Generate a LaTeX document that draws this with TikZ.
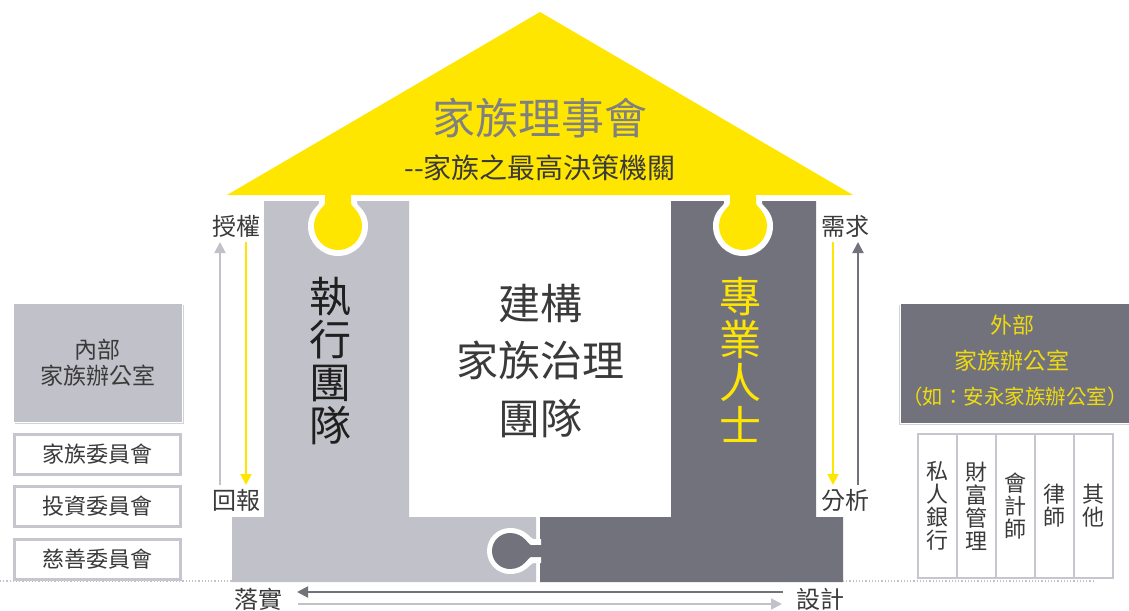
\documentclass[tikz,border=0pt]{standalone}
\usepackage{fontspec}
\setmainfont{Noto Sans CJK TC}
\usetikzlibrary{arrows.meta,shadows}
\definecolor{eyy}{HTML}{FFE600}
\definecolor{lgr}{HTML}{C1C1C9}
\definecolor{dgr}{HTML}{72727C}
\definecolor{txt}{HTML}{3A3A3A}
\definecolor{ttl}{HTML}{808080}
\definecolor{ylt}{HTML}{EEDA10}
\definecolor{bdr}{HTML}{C6C6CE}
\begin{document}
\begin{tikzpicture}[x=1pt,y=-1pt,
  lab/.style={text=txt,font=\fontsize{24}{24}\selectfont,inner sep=0pt},
  arr/.style={line width=2pt,-{Triangle[length=11pt,width=11pt]}},
  vtxt/.style={align=center,inner sep=0pt,font=\fontsize{42}{43}\selectfont},
  combox/.style={draw=bdr,line width=3pt,fill=white,minimum width=166,minimum height=40,inner sep=0pt,text=txt,font=\fontsize{22}{22}\selectfont},
  colbox/.style={draw=bdr,line width=1.6pt,fill=white,minimum width=39,minimum height=144,inner sep=0pt,align=center,text=txt,font=\fontsize{22}{23}\selectfont},
  dots/.style={dotted,line width=1.2pt,color=lgr}
]
\useasboundingbox (0,0) rectangle (1129,610);

% roof
\fill[eyy] (227,195) -- (540,12) -- (853,195) -- cycle;

% puzzle pieces
\fill[lgr] (232,517) -- (264,517) -- (264,201) -- (409,201) -- (409,517) -- (536,517) -- (536,582) -- (232,582) -- cycle;
\fill[dgr] (540,517) -- (671,517) -- (671,201) -- (816,201) -- (816,517) -- (843,517) -- (843,582) -- (540,582) -- cycle;

% yellow knobs on top
\foreach \cx in {338,743}{
  \fill[white] (\cx-19,195) -- (\cx-19,203) .. controls (\cx-19,206) and (\cx-30,211) .. (\cx-30,226)
     arc[start angle=180,end angle=0,radius=30]
     .. controls (\cx+30,211) and (\cx+19,206) .. (\cx+19,203) -- (\cx+19,195) -- cycle;
  \fill[eyy] (\cx-13,193) -- (\cx-13,203) .. controls (\cx-13,207) and (\cx-24,212) .. (\cx-24,226)
     arc[start angle=180,end angle=0,radius=24]
     .. controls (\cx+24,212) and (\cx+13,207) .. (\cx+13,203) -- (\cx+13,193) -- cycle;
}
% bottom knob (dark into light)
\fill[white] (541,539) -- (534,539) .. controls (530,539) and (526,528) .. (510,528)
   arc[start angle=270,end angle=90,radius=23]
   .. controls (526,574) and (530,563) .. (534,563) -- (541,563) -- cycle;
\fill[dgr] (542,545) -- (531,545) .. controls (528,545) and (524,533) .. (510,533)
   arc[start angle=270,end angle=90,radius=18]
   .. controls (524,569) and (528,557) .. (531,557) -- (542,557) -- cycle;

% roof texts
\node[text=ttl,font=\fontsize{43}{43}\selectfont,inner sep=0pt] (title) at (540,118) {家族理事會};
\node[text=txt,font=\fontsize{28}{28}\selectfont,inner sep=0pt] (sub) at (540,168) {-{}-家族之最高決策機關};

% piece texts
\node[vtxt,text=black!88] (exec) at (330,361) {執\\行\\團\\隊};
\node[vtxt,text=eyy] (prof) at (740,360) {專\\業\\人\\士};
\node[align=center,inner sep=0pt,text=txt,font=\fontsize{42}{57.5}\selectfont] (gov) at (540,361) {建構\\家族治理\\團隊};

% side labels
\node[lab] (shou) at (236,226) {授權};
\node[lab] (hui) at (236,500) {回報};
\node[lab] (xu) at (845,226) {需求};
\node[lab] (fen) at (845,500) {分析};
\node[lab] (luo) at (258,599) {落實};
\node[lab] (she) at (820,599) {設計};

% arrows
\coordinate (l1) at (220,485); \coordinate (l2) at (220,242);
\coordinate (l3) at (246,242); \coordinate (l4) at (246,485);
\coordinate (r1) at (833,242); \coordinate (r2) at (833,485);
\coordinate (r3) at (858,485); \coordinate (r4) at (858,242);
\coordinate (b1) at (783,592); \coordinate (b2) at (297,592);
\coordinate (b3) at (298,604); \coordinate (b4) at (782,604);
\draw[arr,color=lgr] (l1) -- (l2);
\draw[arr,color=eyy] (l3) -- (l4);
\draw[arr,color=eyy] (r1) -- (r2);
\draw[arr,color=dgr] (r3) -- (r4);
\draw[arr,color=dgr] (b1) -- (b2);
\draw[arr,color=lgr] (b3) -- (b4);

% dotted base lines
\coordinate (d1) at (0,581); \coordinate (d2) at (232,581);
\coordinate (d3) at (843,581); \coordinate (d4) at (1095,581);
\draw[dots] (d1) -- (d2);
\draw[dots] (d3) -- (d4);

% left: internal family office
\node[fill=lgr,draw=white,line width=1pt,minimum width=169,minimum height=119,inner sep=0pt,
      drop shadow={opacity=0.35,shadow xshift=1.5pt,shadow yshift=-2pt},align=center,text=txt,
      font=\fontsize{23}{26}\selectfont] (inner) at (97.5,362.5) {內部\\家族辦公室};
\node[combox] (c1) at (97.5,454) {家族委員會};
\node[combox] (c2) at (97.5,506.5) {投資委員會};
\node[combox] (c3) at (97.5,559.5) {慈善委員會};

% right: external family office
\node[fill=dgr,draw=white,line width=1pt,minimum width=230,minimum height=120,inner sep=0pt,
      drop shadow={opacity=0.35,shadow xshift=-1.5pt,shadow yshift=-2pt},anchor=west] (outer) at (900,363) {};
\node[text=ylt,font=\fontsize{22}{22}\selectfont,inner sep=0pt] (o1) at (1012,325) {外部};
\node[text=ylt,font=\fontsize{23}{23}\selectfont,inner sep=0pt] (o2) at (1012,361) {家族辦公室};
\node[text=ylt,font=\fontsize{20.5}{21}\selectfont,inner sep=0pt] (o3) at (1015,397) {（如：安永家族辦公室）};

\node[colbox] (k1) at (937.5,506) {私\\人\\銀\\行};
\node[colbox] (k2) at (976.5,506) {財\\富\\管\\理};
\node[colbox] (k3) at (1015.5,506) {會\\計\\師};
\node[colbox] (k4) at (1054.5,506) {律\\師};
\node[colbox] (k5) at (1093.5,506) {其\\他};
\end{tikzpicture}
\end{document}
